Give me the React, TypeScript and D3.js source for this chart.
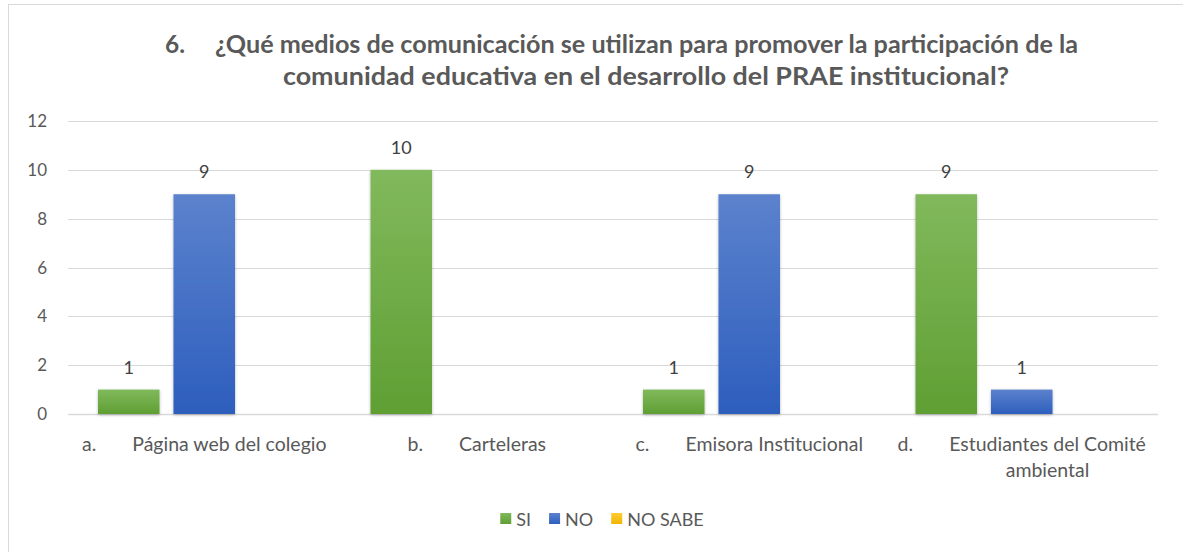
import { useEffect, useRef } from "react";
import * as d3 from "d3";

const prefixes = ["a.", "b.", "c.", "d."];
const categories = [
  ["Página web del colegio"],
  ["Carteleras"],
  ["Emisora Institucional"],
  ["Estudiantes del Comité", "ambiental"],
];
const seriesNames = ["SI", "NO", "NO SABE"];
const siValues = [1, 10, 1, 9];
const noValues = [9, 0, 9, 1];
const noSabeValues = [0, 0, 0, 0];
const yTicks = [0, 2, 4, 6, 8, 10, 12];
const titleNumber = "6.";
const titleLine1 = "¿Qué medios de comunicación se utilizan para promover la participación de la";
const titleLine2 = "comunidad educativa en el desarrollo del PRAE institucional?";

const FONT = "Lato, 'Open Sans', sans-serif";

const App = () => {
  const svgRef = useRef<SVGSVGElement>(null);

  useEffect(() => {
    const svg = d3.select(svgRef.current);
    const width = 1183;
    const height = 552;
    const margin = { top: 121, right: 25, bottom: 138, left: 68 };

    svg.selectAll("*").remove();

    const defs = svg.append("defs");
    const grad = (id: string, top: string, bottom: string) => {
      const g = defs
        .append("linearGradient")
        .attr("id", id)
        .attr("x1", 0)
        .attr("y1", 0)
        .attr("x2", 0)
        .attr("y2", 1);
      g.append("stop").attr("offset", "0%").attr("stop-color", top);
      g.append("stop").attr("offset", "100%").attr("stop-color", bottom);
    };
    grad("g-si", "#81b95c", "#5f9f33");
    grad("g-no", "#5c82cd", "#2d5ebd");
    grad("g-ns", "#ffcb33", "#f0b400");
    const shadow = defs.append("filter").attr("id", "shadow").attr("x", "-20%").attr("y", "-20%").attr("width", "140%").attr("height", "140%");
    shadow
      .append("feDropShadow")
      .attr("dx", 0)
      .attr("dy", 1)
      .attr("stdDeviation", 1.6)
      .attr("flood-color", "#000")
      .attr("flood-opacity", 0.28);

    const fills = ["url(#g-si)", "url(#g-no)", "url(#g-ns)"];

    // marco del gráfico
    svg
      .append("rect")
      .attr("x", 8.5)
      .attr("y", 4.5)
      .attr("width", 1300)
      .attr("height", 600)
      .attr("fill", "#fff")
      .attr("stroke", "#d9d9d9");

    // título
    const title = svg
      .append("g")
      .attr("font-family", FONT)
      .attr("font-weight", "bold")
      .attr("font-size", 24.5)
      .attr("fill", "#595959");
    title.append("text").attr("x", 165).attr("y", 53).attr("textLength", 20).attr("lengthAdjust", "spacingAndGlyphs").text(titleNumber);
    title.append("text").attr("x", 215).attr("y", 53).attr("textLength", 863).attr("lengthAdjust", "spacingAndGlyphs").text(titleLine1);
    title
      .append("text")
      .attr("x", 646)
      .attr("y", 85)
      .attr("text-anchor", "middle")
      .attr("textLength", 726)
      .attr("lengthAdjust", "spacingAndGlyphs")
      .text(titleLine2);

    const x0 = d3
      .scaleBand()
      .domain(categories.map((_, i) => String(i)))
      .range([margin.left, width - margin.right]);

    const gapHalf = 30;
    const x1 = d3
      .scaleBand()
      .domain(seriesNames)
      .range([gapHalf, x0.bandwidth() - gapHalf])
      .paddingInner(0.185);

    const y = d3
      .scaleLinear()
      .domain([0, 12])
      .range([height - margin.bottom, margin.top]);

    // líneas de cuadrícula
    svg
      .append("g")
      .selectAll("line")
      .data(yTicks)
      .enter()
      .append("line")
      .attr("x1", margin.left)
      .attr("x2", width - margin.right)
      .attr("y1", (d) => Math.round(y(d)) + 0.5)
      .attr("y2", (d) => Math.round(y(d)) + 0.5)
      .attr("stroke", "#d9d9d9")
      .attr("stroke-width", (d) => (d === 0 ? 1.5 : 1));

    // etiquetas del eje y
    svg
      .append("g")
      .selectAll("text")
      .data(yTicks)
      .enter()
      .append("text")
      .attr("x", 47)
      .attr("y", (d) => y(d) + 6)
      .attr("text-anchor", "end")
      .attr("font-family", FONT)
      .attr("font-size", 17)
      .attr("fill", "#595959")
      .text((d) => d);

    // barras
    const rows = categories.map((_, i) => [siValues[i], noValues[i], noSabeValues[i]]);
    const groups = svg
      .append("g")
      .selectAll("g")
      .data(rows)
      .enter()
      .append("g")
      .attr("transform", (_, i) => `translate(${x0(String(i))},0)`);

    groups
      .selectAll("rect")
      .data((d) => d.map((v, j) => ({ v, j })))
      .enter()
      .filter((d) => d.v > 0)
      .append("rect")
      .attr("x", (d) => x1(seriesNames[d.j]))
      .attr("y", (d) => y(d.v))
      .attr("width", x1.bandwidth())
      .attr("height", (d) => y(0) - y(d.v))
      .attr("fill", (d) => fills[d.j])
      .attr("filter", "url(#shadow)");

    groups
      .selectAll("text")
      .data((d) => d.map((v, j) => ({ v, j })))
      .enter()
      .filter((d) => d.v > 0)
      .append("text")
      .attr("x", (d) => x1(seriesNames[d.j]) + x1.bandwidth() / 2)
      .attr("y", (d) => y(d.v) - 16)
      .attr("text-anchor", "middle")
      .attr("font-family", FONT)
      .attr("font-size", 18)
      .attr("fill", "#404040")
      .text((d) => d.v);

    // etiquetas de categoría
    const labelGap = 36;
    categories.forEach((lines, i) => {
      const cx = x0(String(i)) + x0.bandwidth() / 2;
      const g = svg
        .append("g")
        .attr("font-family", FONT)
        .attr("font-size", 19.5)
        .attr("fill", "#595959");
      const p = g.append("text").attr("y", 451).text(prefixes[i]);
      const n = g.append("text").attr("y", 451).text(lines[0]);
      const pw = (p.node() as SVGTextElement).getComputedTextLength();
      const nw = (n.node() as SVGTextElement).getComputedTextLength();
      const start = cx - (pw + labelGap + nw) / 2;
      p.attr("x", start);
      n.attr("x", start + pw + labelGap);
      const nameCenter = start + pw + labelGap + nw / 2;
      lines.slice(1).forEach((l, k) => {
        g.append("text")
          .attr("x", nameCenter)
          .attr("y", 451 + 26 * (k + 1))
          .attr("text-anchor", "middle")
          .text(l);
      });
    });

    // leyenda
    const legend = svg
      .append("g")
      .attr("font-family", FONT)
      .attr("font-size", 18)
      .attr("fill", "#595959");
    const items = seriesNames.map((s, j) => {
      const g = legend.append("g");
      g.append("rect").attr("width", 11).attr("height", 11).attr("y", -13).attr("fill", fills[j]);
      const t = g.append("text").attr("x", 16).text(s);
      const w = 16 + (t.node() as SVGTextElement).getComputedTextLength();
      return { g, w };
    });
    const spacing = 18;
    const total = d3.sum(items, (d) => d.w) + spacing * (items.length - 1);
    let lx = 602 - total / 2;
    items.forEach((it) => {
      it.g.attr("transform", `translate(${lx},526)`);
      lx += it.w + spacing;
    });
  }, []);

  return <svg ref={svgRef} width={1183} height={552} style={{ position: "absolute", left: 0, top: 0 }}></svg>;
};

export default App;
